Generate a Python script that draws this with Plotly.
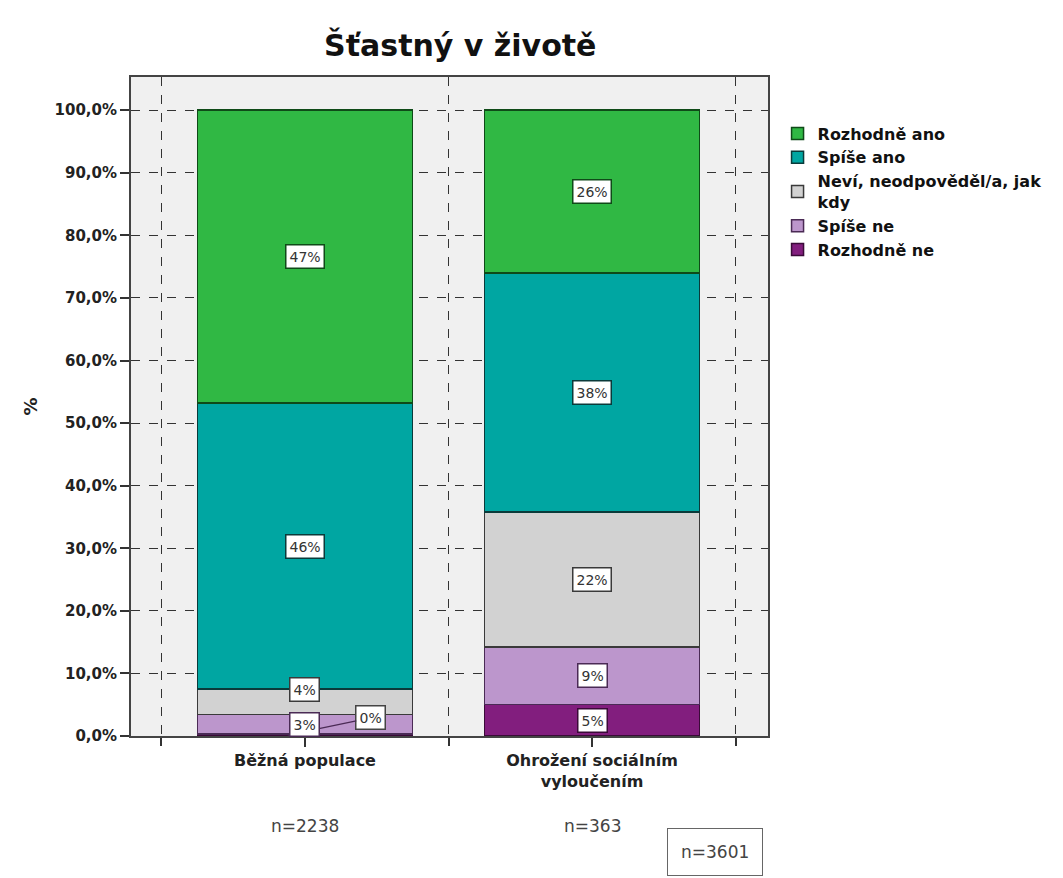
import plotly.graph_objects as go

categories = ["Běžná populace", "Ohrožení sociálním<br>vyloučením"]
cat_x = [0, 1]
n_labels = ["n=2238", "n=363"]
series_names = ["Rozhodně ne", "Spíše ne", "Neví, neodpověděl/a, jak<br>kdy", "Spíše ano", "Rozhodně ano"]
values = {
    "Rozhodně ne": [0.3, 5.0],
    "Spíše ne": [3.1, 9.2],
    "Neví, neodpověděl/a, jak<br>kdy": [4.1, 21.6],
    "Spíše ano": [45.7, 38.2],
    "Rozhodně ano": [46.8, 26.0],
}
labels = {
    "Rozhodně ne": ["0%", "5%"],
    "Spíše ne": ["3%", "9%"],
    "Neví, neodpověděl/a, jak<br>kdy": ["4%", "22%"],
    "Spíše ano": ["46%", "38%"],
    "Rozhodně ano": ["47%", "26%"],
}
colors = ["#821e7e", "#bc96cc", "#d2d2d2", "#00a6a2", "#30b844"]
edge = ["#3a0a38", "#4a2a55", "#3a3a3a", "#0a3a3a", "#0f4a18"]
y_ticks = [0, 10, 20, 30, 40, 50, 60, 70, 80, 90, 100]
y_ticktext = ["<b>%s</b>" % (f"{v:.1f}".replace(".", ",") + "%") for v in y_ticks]

FONT = "DejaVu Sans, Liberation Sans, Arial, sans-serif"
fig = go.Figure()
for name, c, e in zip(series_names, colors, edge):
    fig.add_trace(go.Bar(
        x=cat_x, y=values[name], name=name, width=0.75,
        marker=dict(color=c, line=dict(color=e, width=1.5)),
    ))

annotations = []
cum = [0.0, 0.0]
for name, e in zip(series_names, edge):
    for i in range(2):
        v = values[name][i]
        mid = cum[i] + v / 2
        txt = labels[name][i]
        if name == "Rozhodně ne" and i == 0:
            annotations.append(dict(
                x=cat_x[i] - 0.06, y=mid, ax=cat_x[i] + 0.23, ay=2.9,
                axref="x", ayref="y", xref="x", yref="y",
                text=txt, showarrow=True, arrowhead=0, arrowwidth=1.2, arrowcolor="#4a2a55",
                bgcolor="white", bordercolor="#444", borderwidth=1.5, borderpad=3,
                font=dict(family=FONT, size=14, color="#333")))
        else:
            ys = 12 if (name.startswith("Neví") and i == 0) else 0
            annotations.append(dict(
                x=cat_x[i], y=mid, xref="x", yref="y", text=txt, showarrow=False, yshift=ys,
                bgcolor="white", bordercolor=e, borderwidth=1.5, borderpad=3,
                font=dict(family=FONT, size=14, color="#333")))
        cum[i] += v

for i in range(2):
    annotations.append(dict(x=cat_x[i], y=-0.1366, xref="x", yref="paper", text=n_labels[i],
                            showarrow=False, xanchor="center", yanchor="middle",
                            font=dict(family=FONT, size=17, color="#444")))
annotations.append(dict(x=0.917, y=-0.176, xref="paper", yref="paper", text="n=3601",
                        xanchor="center", yanchor="middle",
                        showarrow=False, bgcolor="white", bordercolor="#666", borderwidth=1,
                        borderpad=13, font=dict(family=FONT, size=17, color="#444")))

fig.update_layout(
    width=1063, height=878,
    margin=dict(l=131, r=295, t=77, b=142),
    barmode="stack",
    paper_bgcolor="white", plot_bgcolor="#f0f0f0",
    title=dict(text="<b>Šťastný v životě</b>", x=0.433, xanchor="center", y=0.948, yanchor="middle",
               font=dict(family=FONT, size=30, color="#111")),
    font=dict(family=FONT, color="#222"),
    legend=dict(x=1.015, y=0.94, xanchor="left", yanchor="top", traceorder="reversed",
                font=dict(family=FONT, size=16, color="#111", weight="bold"),
                bgcolor="rgba(0,0,0,0)", tracegroupgap=0, itemwidth=30),
    annotations=annotations,
    showlegend=True,
)
fig.update_xaxes(
    range=[-0.606, 1.613], tickvals=cat_x, ticktext=["<b>%s</b>" % c for c in categories],
    tickfont=dict(family=FONT, size=16, color="#222"),
    ticks="outside", ticklen=9, tickcolor="#333", tickwidth=1.5,
    showline=True, linecolor="#444", linewidth=2, mirror=True,
    showgrid=False, zeroline=False,
    minor=dict(tickvals=[-0.5, 0.5, 1.5], ticks="outside", ticklen=8, tickcolor="#333",
               showgrid=True, gridcolor="#333", griddash="dash", gridwidth=1.2),
)
fig.update_yaxes(
    range=[0, 105.3], tickvals=y_ticks, ticktext=y_ticktext,
    tickfont=dict(family=FONT, size=15, color="#222"),
    ticks="outside", ticklen=9, tickcolor="#333", tickwidth=1.5,
    showline=True, linecolor="#444", linewidth=2, mirror=True,
    showgrid=True, gridcolor="#333", griddash="dash", gridwidth=1.2, zeroline=False,
    title=dict(text="<b>%</b>", font=dict(family=FONT, size=18, color="#222"), standoff=12),
)
fig.write_html("out.html")
